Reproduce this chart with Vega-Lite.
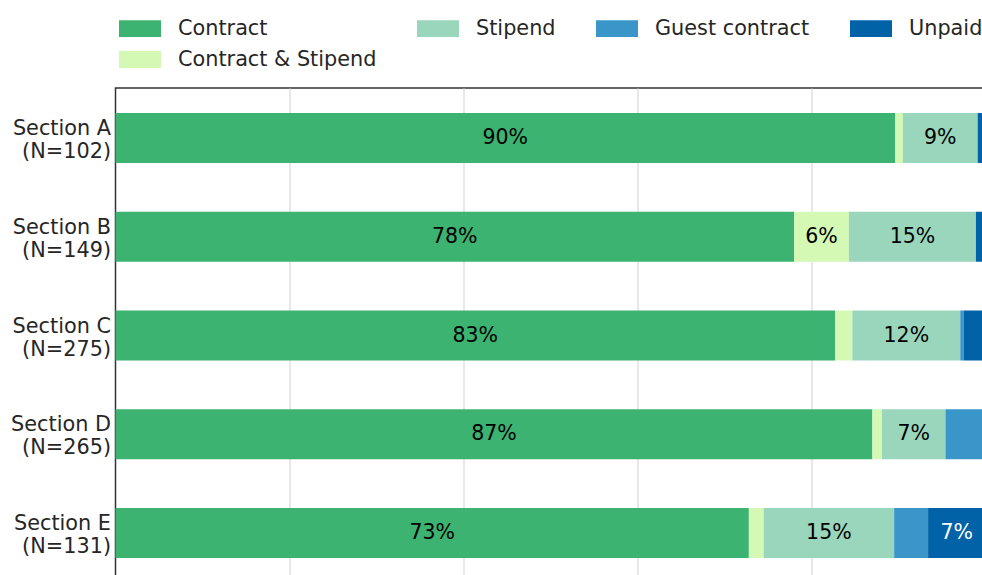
{
  "$schema": "https://vega.github.io/schema/vega-lite/v6.json",
  "width": 870,
  "height": 495,
  "autosize": {"type": "none"},
  "padding": {"left": 115.5, "top": 88, "right": 0, "bottom": 0},
  "config": {
    "font": "DejaVu Sans",
    "view": {"stroke": "#333333", "strokeWidth": 1.5},
    "axis": {"labelFont": "DejaVu Sans"},
    "legend": {"labelFont": "DejaVu Sans"}
  },
  "data": {
    "values": [
      {"section": "Section A\n(N=102)", "type": "Contract", "value": 0.896},
      {"section": "Section A\n(N=102)", "type": "Contract & Stipend", "value": 0.009},
      {"section": "Section A\n(N=102)", "type": "Stipend", "value": 0.086},
      {"section": "Section A\n(N=102)", "type": "Unpaid", "value": 0.009},
      {"section": "Section B\n(N=149)", "type": "Contract", "value": 0.780},
      {"section": "Section B\n(N=149)", "type": "Contract & Stipend", "value": 0.063},
      {"section": "Section B\n(N=149)", "type": "Stipend", "value": 0.146},
      {"section": "Section B\n(N=149)", "type": "Unpaid", "value": 0.011},
      {"section": "Section C\n(N=275)", "type": "Contract", "value": 0.827},
      {"section": "Section C\n(N=275)", "type": "Contract & Stipend", "value": 0.020},
      {"section": "Section C\n(N=275)", "type": "Stipend", "value": 0.124},
      {"section": "Section C\n(N=275)", "type": "Guest contract", "value": 0.004},
      {"section": "Section C\n(N=275)", "type": "Unpaid", "value": 0.025},
      {"section": "Section D\n(N=265)", "type": "Contract", "value": 0.870},
      {"section": "Section D\n(N=265)", "type": "Contract & Stipend", "value": 0.011},
      {"section": "Section D\n(N=265)", "type": "Stipend", "value": 0.073},
      {"section": "Section D\n(N=265)", "type": "Guest contract", "value": 0.046},
      {"section": "Section E\n(N=131)", "type": "Contract", "value": 0.728},
      {"section": "Section E\n(N=131)", "type": "Contract & Stipend", "value": 0.017},
      {"section": "Section E\n(N=131)", "type": "Stipend", "value": 0.150},
      {"section": "Section E\n(N=131)", "type": "Guest contract", "value": 0.039},
      {"section": "Section E\n(N=131)", "type": "Unpaid", "value": 0.066}
    ]
  },
  "transform": [
    {"calculate": "indexof(['Contract','Contract & Stipend','Stipend','Guest contract','Unpaid'], datum.type)", "as": "ord"},
    {"stack": "value", "groupby": ["section"], "sort": [{"field": "ord", "order": "ascending"}], "as": ["v0", "v1"]}
  ],
  "encoding": {
    "y": {
      "field": "section",
      "type": "nominal",
      "sort": null,
      "scale": {"paddingInner": 0.494, "paddingOuter": 0.253},
      "axis": {
        "title": null,
        "domain": false,
        "ticks": false,
        "tickSize": 0,
        "labelPadding": 5,
        "labelOffset": -9,
        "labelFontSize": 20.8,
        "labelColor": "#262626",
        "labelLineHeight": 23,
        "labelExpr": "split(datum.label, '\\n')",
        "labelLimit": 0
      }
    }
  },
  "layer": [
    {
      "mark": {"type": "bar"},
      "encoding": {
        "x": {
          "field": "v0",
          "type": "quantitative",
          "scale": {"domain": [0, 1], "nice": false, "zero": true},
          "axis": {
            "title": null,
            "values": [0.2, 0.4, 0.6, 0.8],
            "grid": true,
            "gridColor": "#dcdcdc",
            "gridWidth": 1.3,
            "labels": false,
            "ticks": false,
            "domain": false
          }
        },
        "x2": {"field": "v1"},
        "color": {
          "field": "type",
          "type": "nominal",
          "scale": {
            "domain": ["Contract", "Stipend", "Guest contract", "Unpaid", "Contract & Stipend"],
            "range": ["#3cb371", "#9ad6bb", "#3a96c8", "#0262a8", "#d3f9b4"]
          },
          "legend": {
            "title": null,
            "orient": "none",
            "direction": "horizontal",
            "legendX": 3.5,
            "legendY": -80.5,
            "columns": 4,
            "padding": 0,
            "symbolType": "M-1,-0.4H1V0.4H-1Z",
            "symbolSize": 1764,
            "symbolStrokeWidth": 0,
            "symbolOpacity": 1,
            "labelFontSize": 20.8,
            "labelColor": "#262626",
            "labelOffset": 17,
            "columnPadding": 40,
            "rowPadding": -1,
            "labelLimit": 0
          }
        }
      }
    },
    {
      "transform": [
        {"filter": "datum.value >= 0.05"},
        {"calculate": "(datum.v0 + datum.v1) / 2", "as": "mid"}
      ],
      "mark": {"type": "text", "fontSize": 20.5, "baseline": "middle", "align": "center"},
      "encoding": {
        "x": {"field": "mid", "type": "quantitative"},
        "text": {"field": "value", "type": "quantitative", "format": ".0%"},
        "color": {
          "condition": {"test": "datum.type === 'Unpaid'", "value": "white"},
          "value": "black"
        }
      }
    }
  ]
}
